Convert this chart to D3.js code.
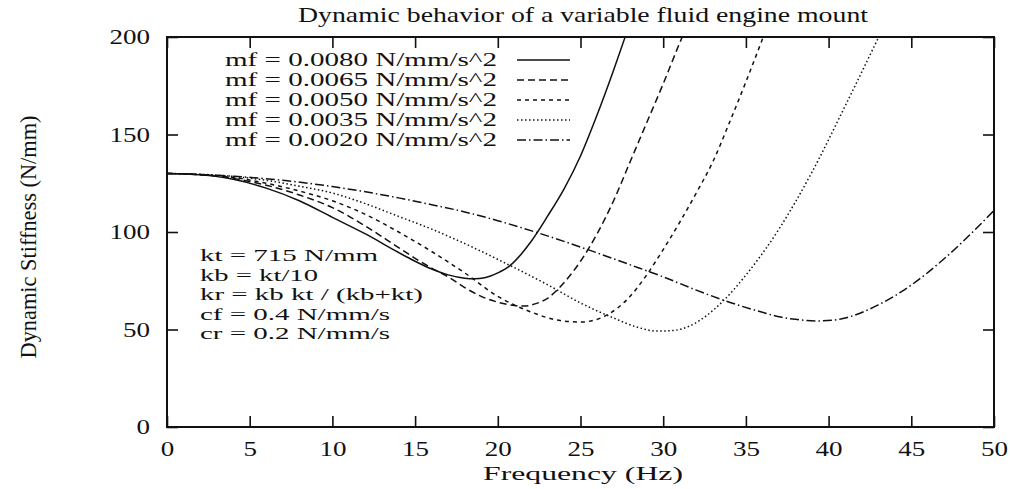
<!DOCTYPE html>
<html>
<head>
<meta charset="utf-8">
<script src="https://cdn.jsdelivr.net/npm/d3@7"></script>
<style>
  body { margin: 0; background: #fff; }
  svg text { font-family: "Liberation Serif", "Times New Roman", Times, serif; fill: #111; }
</style>
</head>
<body>
<svg id="chart" width="1010" height="489"></svg>
<script>
// ---------- data ----------
const titleText = "Dynamic behavior of a variable fluid engine mount";
const xLabel = "Frequency (Hz)";
const yLabel = "Dynamic Stiffness (N/mm)";
const xTicks = [0, 5, 10, 15, 20, 25, 30, 35, 40, 45, 50];
const yTicks = [0, 50, 100, 150, 200];
const seriesNames = [
  "mf = 0.0080 N/mm/s^2",
  "mf = 0.0065 N/mm/s^2",
  "mf = 0.0050 N/mm/s^2",
  "mf = 0.0035 N/mm/s^2",
  "mf = 0.0020 N/mm/s^2"
];
const notes = [
  "kt = 715 N/mm",
  "kb = kt/10",
  "kr = kb kt / (kb+kt)",
  "cf = 0.4 N/mm/s",
  "cr = 0.2 N/mm/s"
];
// frequency (Hz) / stiffness (N/mm) pairs
const mf0080 = [[0,130],[2,129.3],[4,127],[6,122.5],[8,116],[10,107.5],[12,99],[14,89.5],[15,85],[16,81],[17,78],[18,76.3],[18.6,76],[19.2,76.5],[20,79],[20.7,82.5],[21.4,88.5],[22,95],[23,108],[24,122],[25,139],[26,160],[27,183],[27.7,200]];
const mf0065 = [[0,130],[2,129.4],[4,127.5],[6,124],[8,119],[10,112.5],[12,103],[14,92],[15,86.5],[16,81.5],[17,77],[18,71.5],[19,67],[20,64],[21,62.3],[21.6,62],[22.2,63],[23,66],[24,74],[25,85],[26,99],[27,116],[28,136],[29,156],[30,176],[31,197],[31.15,200]];
const mf0050 = [[0,130],[2,129.5],[4,128],[6,125],[8,121],[10,116],[12,109],[14,100],[16,90],[18,79],[20,67],[22,59],[23.5,55],[25,53.8],[26.5,57],[28,67],[29,78],[30,91],[31,105],[32,120],[33,136],[34,156],[35,177],[36.05,200]];
const mf0035 = [[0,130],[2,129.6],[4,128.5],[6,126.5],[8,123.5],[10,120],[12,114.5],[14,108],[16,101.5],[17.5,96],[20.7,83],[23,73],[25,63.6],[27,55.9],[28.5,51],[29.6,49.2],[30.6,49.5],[31.6,51.8],[32.6,57],[33.6,64.4],[35,77.9],[37,101.5],[39,130.8],[41,164.6],[43,199.5]];
const mf0020 = [[0,130],[4,128.6],[7,126.5],[10,123.3],[12,120.6],[14,117.5],[16,114],[18,110.3],[20,105.8],[22,100.7],[24,95.2],[26,89.3],[28,83.2],[30,77],[32,70.2],[34,64],[36,58.8],[37,56.5],[38,55.2],[39.4,54.4],[40.3,54.8],[41,55.9],[43,62.6],[45,72.8],[47,86.4],[50,111]];
const seriesData = [mf0080, mf0065, mf0050, mf0035, mf0020];
const dashes = ["none", "7,4", "4,4", "1.5,2.5", "9,3,1.5,3"];

// ---------- layout ----------
const FONT = "Liberation Serif, Times New Roman, Times, serif";
const svg = d3.select("#chart");
const plot = { left: 167, right: 994, top: 37, bottom: 427 };
const x = d3.scaleLinear().domain([0, 50]).range([plot.left, plot.right]);
const y = d3.scaleLinear().domain([0, 200]).range([plot.bottom, plot.top]);

// frame
svg.append("rect")
  .attr("x", plot.left).attr("y", plot.top)
  .attr("width", plot.right - plot.left).attr("height", plot.bottom - plot.top)
  .attr("fill", "none").attr("stroke", "#111").attr("stroke-width", 2);

const tickLen = 11;
const fsTick = 21;
// axes (ticks drawn inward)
const xAxisB = d3.axisBottom(x).tickValues(xTicks).tickSizeInner(-tickLen).tickSizeOuter(0).tickPadding(14);
const gxb = svg.append("g").attr("transform", `translate(0,${plot.bottom})`).call(xAxisB);
const xAxisT = d3.axisTop(x).tickValues(xTicks).tickSizeInner(-tickLen).tickSizeOuter(0).tickFormat("");
const gxt = svg.append("g").attr("transform", `translate(0,${plot.top})`).call(xAxisT);
const yAxisL = d3.axisLeft(y).tickValues(yTicks).tickSizeInner(-tickLen).tickSizeOuter(0).tickPadding(17);
const gyl = svg.append("g").attr("transform", `translate(${plot.left},0)`).call(yAxisL);
const yAxisR = d3.axisRight(y).tickValues(yTicks).tickSizeInner(-tickLen).tickSizeOuter(0).tickFormat("");
const gyr = svg.append("g").attr("transform", `translate(${plot.right},0)`).call(yAxisR);
[gxb, gxt, gyl, gyr].forEach(g => {
  g.select(".domain").remove();
  g.selectAll(".tick line").attr("stroke", "#111").attr("stroke-width", 1.6);
  g.selectAll(".tick text").attr("font-size", fsTick).attr("fill", "#111")
    .attr("font-family", FONT);
});
[gxb, gyl].forEach(g => g.selectAll(".tick text").each(function(d) {
  const s = String(d);
  d3.select(this).attr("textLength", s.length * 13.5).attr("lengthAdjust", "spacingAndGlyphs");
}));

// title and axis labels
svg.append("text").attr("x", 583).attr("y", 22).attr("text-anchor", "middle")
  .attr("font-family", FONT).attr("font-size", 22)
  .attr("textLength", 570).attr("lengthAdjust", "spacingAndGlyphs").text(titleText);
svg.append("text").attr("x", 583).attr("y", 480).attr("text-anchor", "middle")
  .attr("font-family", FONT).attr("font-size", 19.5)
  .attr("textLength", 200).attr("lengthAdjust", "spacingAndGlyphs").text(xLabel);
svg.append("text").attr("transform", "translate(36,237) rotate(-90)").attr("text-anchor", "middle")
  .attr("font-family", FONT).attr("font-size", 23)
  .attr("textLength", 243).attr("lengthAdjust", "spacingAndGlyphs").text(yLabel);

// curves
const line = d3.line().x(d => x(d[0])).y(d => y(d[1])).curve(d3.curveMonotoneX);
svg.append("clipPath").attr("id", "clip").append("rect")
  .attr("x", plot.left).attr("y", plot.top).attr("width", plot.right - plot.left).attr("height", plot.bottom - plot.top);
const curves = svg.append("g").attr("clip-path", "url(#clip)");
seriesData.forEach((s, i) => {
  curves.append("path").datum(s).attr("d", line)
    .attr("fill", "none").attr("stroke", "#111").attr("stroke-width", 1.5)
    .attr("stroke-dasharray", dashes[i]);
});

// legend
const legend = svg.append("g");
seriesNames.forEach((name, i) => {
  const yy = 60 + i * 20;
  legend.append("text").attr("x", 497).attr("y", yy + 6).attr("text-anchor", "end")
    .attr("font-family", FONT).attr("font-size", 18)
    .attr("textLength", 272).attr("lengthAdjust", "spacingAndGlyphs").text(name);
  legend.append("line").attr("x1", 517).attr("x2", 570).attr("y1", yy).attr("y2", yy)
    .attr("stroke", "#111").attr("stroke-width", 1.5).attr("stroke-dasharray", dashes[i]);
});

// parameter notes
const noteW = [178, 118, 223, 190, 190];
notes.forEach((t, i) => {
  svg.append("text").attr("x", 200).attr("y", 261 + i * 19.5)
    .attr("font-family", FONT).attr("font-size", 17.5)
    .attr("textLength", noteW[i]).attr("lengthAdjust", "spacingAndGlyphs").text(t);
});
</script>
</body>
</html>
